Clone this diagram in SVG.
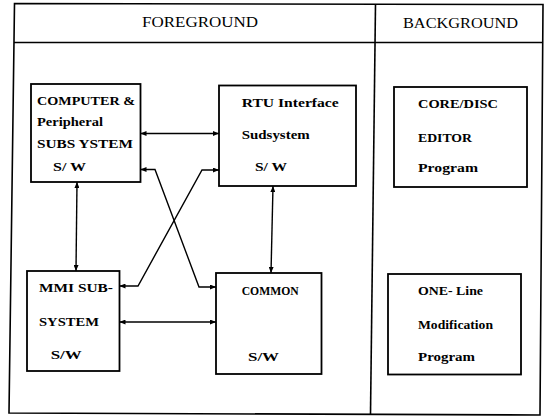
<svg xmlns="http://www.w3.org/2000/svg" width="550" height="417" viewBox="0 0 550 417">
<defs>
<style>
.frame{fill:none;stroke:#000;stroke-width:1.6}
.box{fill:#fff;stroke:#000;stroke-width:1.8}
.t{font-family:"Liberation Serif","Times New Roman",serif;font-weight:bold;font-size:13.5px;fill:#000}
.h{font-family:"Liberation Serif","Times New Roman",serif;font-size:14px;fill:#000}
.c{fill:none;stroke:#000;stroke-width:1.4;marker-start:url(#ah);marker-end:url(#ah)}
</style>
<marker id="ah" viewBox="0 0 6 5" refX="6" refY="2.5" markerWidth="6" markerHeight="5" markerUnits="userSpaceOnUse" orient="auto-start-reverse">
<path d="M0,0 L6,2.5 L0,5 z" fill="#000"/>
</marker>
</defs>
<rect width="550" height="417" fill="#fff"/>
<g id="frame">
<path class="frame" d="M14.5,3.5 L543,4.5 L540,415 L9,413 Z"/>
<line class="frame" x1="14" y1="42.5" x2="543" y2="42.5"/>
<line class="frame" x1="375.5" y1="4" x2="370.5" y2="414"/>
<text class="h" x="142" y="27" textLength="116" lengthAdjust="spacingAndGlyphs">FOREGROUND</text>
<text class="h" x="403" y="28" textLength="115" lengthAdjust="spacingAndGlyphs">BACKGROUND</text>
</g>
<g id="connectors">
<path class="c" d="M140.5,133.5 L219,133.5"/>
<path class="c" d="M140.5,169.5 L155,169.5 L199,287 L216,287"/>
<path class="c" d="M219,170 L202,170 L138,286 L119.5,286"/>
<path class="c" d="M77,182 L76,271"/>
<path class="c" d="M273,186 L271,273"/>
<path class="c" d="M119.5,322 L216,322"/>
</g>
<g id="computer">
<rect class="box" x="31" y="84" width="109.5" height="98"/>
<text class="t" x="37" y="105" textLength="98" lengthAdjust="spacingAndGlyphs">COMPUTER &amp;</text>
<text class="t" x="37" y="126" textLength="66" lengthAdjust="spacingAndGlyphs">Peripheral</text>
<text class="t" x="37" y="148" textLength="96" lengthAdjust="spacingAndGlyphs">SUBS YSTEM</text>
<text class="t" x="53" y="171" textLength="33" lengthAdjust="spacingAndGlyphs">S/ W</text>
</g>
<g id="rtu">
<rect class="box" x="219" y="85.5" width="137" height="100.5"/>
<text class="t" x="241.7" y="107" textLength="97" lengthAdjust="spacingAndGlyphs">RTU  Interface</text>
<text class="t" x="241.7" y="139" textLength="68" lengthAdjust="spacingAndGlyphs">Sudsystem</text>
<text class="t" x="255" y="171" textLength="32" lengthAdjust="spacingAndGlyphs">S/ W</text>
</g>
<g id="coredisc">
<rect class="box" x="394" y="87" width="133" height="100"/>
<text class="t" x="418" y="108" textLength="80" lengthAdjust="spacingAndGlyphs">CORE/DISC</text>
<text class="t" x="418" y="142" textLength="54" lengthAdjust="spacingAndGlyphs">EDITOR</text>
<text class="t" x="418" y="172" textLength="60" lengthAdjust="spacingAndGlyphs">Program</text>
</g>
<g id="mmi">
<rect class="box" x="27" y="271" width="92.5" height="100"/>
<text class="t" x="39" y="292" textLength="74" lengthAdjust="spacingAndGlyphs">MMI  SUB-</text>
<text class="t" x="39" y="326" textLength="60" lengthAdjust="spacingAndGlyphs">SYSTEM</text>
<text class="t" x="50.7" y="359" textLength="31" lengthAdjust="spacingAndGlyphs">S/W</text>
</g>
<g id="common">
<rect class="box" x="216" y="273" width="105.5" height="101"/>
<text class="t" x="241.7" y="295" textLength="57" lengthAdjust="spacingAndGlyphs">COMMON</text>
<text class="t" x="248" y="361" textLength="31" lengthAdjust="spacingAndGlyphs">S/W</text>
</g>
<g id="oneline">
<rect class="box" x="388" y="274" width="133" height="100.5"/>
<text class="t" x="418" y="295" textLength="65" lengthAdjust="spacingAndGlyphs">ONE- Line</text>
<text class="t" x="418" y="329" textLength="75" lengthAdjust="spacingAndGlyphs">Modification</text>
<text class="t" x="418" y="361" textLength="57" lengthAdjust="spacingAndGlyphs">Program</text>
</g>
</svg>
